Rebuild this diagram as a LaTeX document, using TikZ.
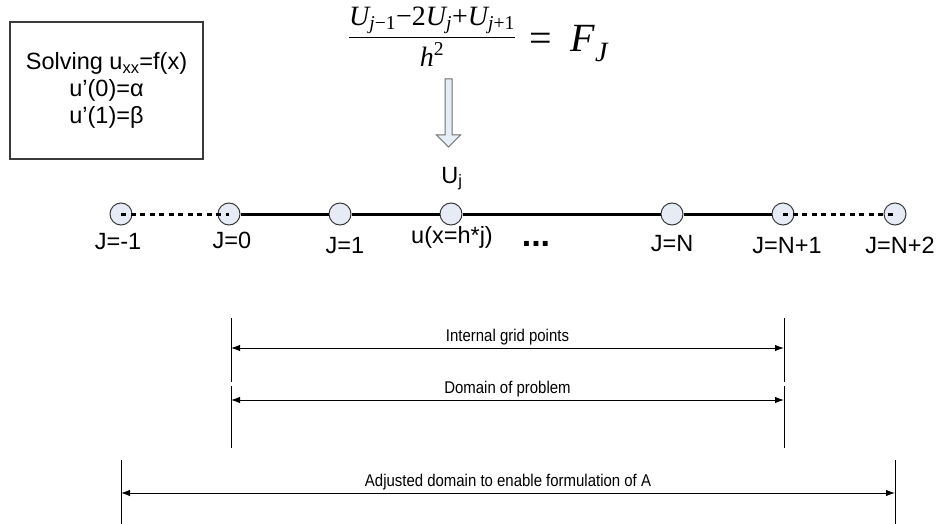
\documentclass[tikz,border=0pt]{standalone}
\usepackage{amsmath}
\usepackage{fontspec}
\setmainfont{Liberation Sans}
\newfontfamily\tms{Liberation Serif}
\newfontfamily\narrowfont[FakeStretch=0.88]{Liberation Sans}
\usetikzlibrary{arrows.meta,positioning}
\definecolor{ptfill}{HTML}{E6EBF5}
\definecolor{ptline}{HTML}{3A3A3A}
\definecolor{arrfill}{HTML}{E8EEF7}
\definecolor{arrline}{HTML}{6E6E6E}
\newcommand{\tv}[1]{\text{\tms\itshape #1}}
\newcommand{\tu}[1]{\text{\tms #1}}

\begin{document}
\begin{tikzpicture}[x=1pt, y=-1pt, >={Latex[length=9pt,width=6.5pt]},
  gridpt/.style={circle, draw=ptline, fill=ptfill, line width=1pt, minimum size=22pt, inner sep=0pt},
  ptlabel/.style={anchor=base, inner sep=0pt, font=\fontsize{23.5}{26}\selectfont},
  dimlabel/.style={midway, above=2pt, inner sep=0pt, font=\narrowfont\fontsize{17}{20}\selectfont},
  dimline/.style={<->, line width=1pt},
  mainline/.style={line width=3pt},
  dotline/.style={line width=3pt, dash pattern=on 5pt off 4.5pt}]
  \useasboundingbox (0,0) rectangle (940,524);

  % problem statement
  \node[draw=ptline, line width=1.2pt, minimum width=193pt, minimum height=137pt, align=center,
        font=\fontsize{23.5}{26.7}\selectfont] (cond) at (106.5,90.5)
        {Solving u\textsubscript{xx}=f(x)\\u’(0)=α\\u’(1)=β};

  % difference formula
  \node[anchor=base, inner sep=0pt, font=\fontsize{28}{32}\selectfont] (fdfrac) at (432,43.5)
        {$\dfrac{\tv{U}_{\tv{j}\tu{−1}}\tu{−2}\tv{U}_{\tv{j}}\tu{+}\tv{U}_{\tv{j}\tu{+1}}}{\rule{0pt}{26pt}\tv{h}^{\tu{2}}}$};
  \node[anchor=base west, inner sep=0pt, font=\fontsize{40}{42}\selectfont] (fdrhs) at (529,52)
        {$\tu{=}\hspace{19pt}\tv{F}_{\tv{J}}$};
  \draw[draw=arrline, fill=arrfill, line width=1pt]
    (445,79) -- (452,79) -- (452,135) -- (460.5,135) -- (448.5,147)
    -- (436.5,135) -- (445,135) -- cycle;
  \node[ptlabel] (uj) at (452,183) {U\textsubscript{j}};

  % grid points
  \node[gridpt] (pm1) at (121,214) {};
  \node[gridpt] (p0)  at (229,214) {};
  \node[gridpt] (p1)  at (340,214) {};
  \node[gridpt] (pj)  at (451,214) {};
  \node[gridpt] (pN)  at (672,214) {};
  \node[gridpt] (pN1) at (783,214) {};
  \node[gridpt] (pN2) at (895,214) {};
  \draw[mainline] (p0) -- (p1) -- (pj) -- (pN) -- (pN1);
  \draw[dotline] (pm1.center) -- (p0.center);
  \draw[dotline] (pN1.center) -- (pN2.center);

  \node[ptlabel] (lm1) at (118,249) {J=-1};
  \node[ptlabel] (l0)  at (232,248) {J=0};
  \node[ptlabel] (l1)  at (345,253) {J=1};
  \node[ptlabel] (lj)  at (452,243) {u(x=h*j)};
  \node[ptlabel, font=\bfseries\fontsize{34}{34}\selectfont] (ldots) at (536,246) {...};
  \node[ptlabel] (lN)  at (672,251) {J=N};
  \node[ptlabel] (lN1) at (787,253) {J=N+1};
  \node[ptlabel] (lN2) at (900,253) {J=N+2};

  % dimension lines
  \coordinate (ia) at (231,348);
  \coordinate (ib) at (784,348);
  \coordinate (da) at (231,400);
  \coordinate (db) at (784,400);
  \coordinate (aa) at (121,493);
  \coordinate (ab) at (895,493);
  \draw[line width=1pt] (231,318) -- (231,382) (784,318) -- (784,382);
  \draw[line width=1pt] (231,386) -- (231,448) (784,386) -- (784,448);
  \draw[line width=1pt] (121,460) -- (121,524) (895,460) -- (895,524);
  \draw[dimline] (ia) -- (ib) node[dimlabel] (ti) {Internal grid points};
  \draw[dimline] (da) -- (db) node[dimlabel] (td) {Domain of problem};
  \draw[dimline] (aa) -- (ab) node[dimlabel] (ta) {Adjusted domain to enable formulation of A};
\end{tikzpicture}
\end{document}
